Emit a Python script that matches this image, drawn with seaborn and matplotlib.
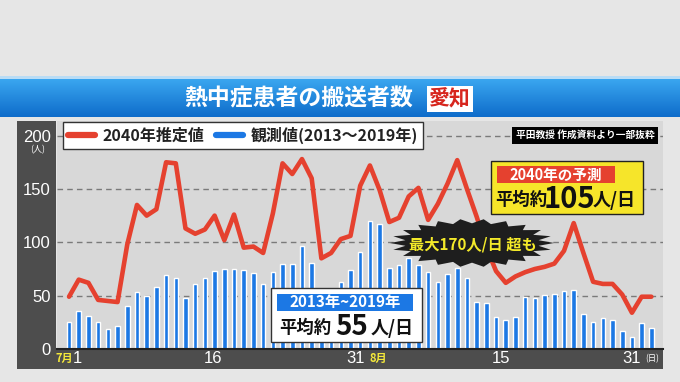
import numpy as np
import pandas as pd
import matplotlib.pyplot as plt
import seaborn as sns
from matplotlib.lines import Line2D
from matplotlib.patches import Rectangle, Polygon
from matplotlib.colors import LinearSegmentedColormap

# data (Jul 1 .. Aug 31)
days = list(range(61))
observed = [25, 36, 31, 25, 19, 22, 40, 53, 50, 58,
            69, 67, 48, 61, 67, 73, 75, 75, 74, 71,
            61, 72, 80, 80, 97, 81, 45, 50, 63, 74,
            91, 120, 117, 76, 79, 85, 79, 72, 63, 70,
            76, 67, 44, 43, 30, 27, 30, 49, 48, 51,
            52, 54, 55, 33, 25, 29, 27, 17, 11, 24, 20]
estimate_2040 = [49, 65, 62, 46, 45, 44, 98, 135, 125, 131,
                 175, 174, 113, 108, 112, 125, 102, 126, 95, 96,
                 90, 127, 174, 164, 178, 160, 85, 90, 103, 106,
                 153, 172, 149, 119, 123, 143, 151, 121, 136, 155,
                 177, 150, 124, 95, 73, 62, 68, 72, 75, 77,
                 80, 92, 118, 90, 63, 61, 61, 51, 34, 49, 49]
x_tick_pos = [0.9, 14.85, 29.5, 44.5, 58]
x_tick_labels = ['1', '16', '31', '15', '31']
y_ticks = [0, 50, 100, 150, 200]

df = pd.DataFrame({'day': days, 'observed': observed, 'estimate': estimate_2040})

red = '#e5412f'
blue = '#1c78e4'
dark = '#4d4d4d'

sns.set_theme(style='white')
plt.rcParams['font.family'] = ['Noto Sans CJK JP', 'DejaVu Sans']

W, H = 680, 382
def fx(px):
    return px / W
def fy(py):
    return 1 - py / H

fig = plt.figure(figsize=(6.8, 3.82), dpi=100)
fig.patch.set_facecolor('#e6e6e6')

def box(x0, y0, x1, y1, **kw):
    r = Rectangle((fx(x0), fy(y1)), fx(x1) - fx(x0), (y1 - y0) / H,
                  transform=fig.transFigure, **kw)
    fig.add_artist(r)
    return r

# title banner
box(0, 76, 680, 79, facecolor='#b9dcf5', edgecolor='none', zorder=0)
ax_b = fig.add_axes([0, fy(117), 1, (117 - 79) / H])
cmap = LinearSegmentedColormap.from_list('banner', ['#3aa6f0', '#0e6cca'])
ax_b.imshow(np.linspace(0, 1, 60).reshape(-1, 1), cmap=cmap, aspect='auto', extent=[0, 1, 0, 1])
ax_b.axis('off')
fig.text(fx(299), fy(99), '熱中症患者の搬送者数', color='white', size=16.5, weight='bold',
         ha='center', va='center')
fig.text(fx(450), fy(99), '愛知', color='#d7261e', size=15, weight='bold', ha='center', va='center',
         bbox=dict(facecolor='white', edgecolor='none', pad=1.5))

# dark axis strips
box(17, 121, 56, 369, facecolor=dark, edgecolor='none', zorder=0)
box(17, 349, 663, 369, facecolor=dark, edgecolor='none', zorder=0)

# main chart
ax = fig.add_axes([fx(57), fy(349), fx(663) - fx(57), (349 - 121) / H])
ax.set_facecolor('#d8d8d8')
for y in [50, 100, 150, 200]:
    ax.axhline(y, color='#7a7a7a', lw=1, ls=(0, (4, 3)), zorder=0.5)
sns.barplot(data=df, x='day', y='observed', color=blue, saturation=1, width=0.47, ax=ax, zorder=2)
sns.lineplot(data=df, x='day', y='estimate', color=red, linewidth=3.3, ax=ax, zorder=3)
ax.set_xlim(-1.24, 61.2)
ax.set_ylim(0, (349 - 121) / 1.067)
ax.set_xlabel('')
ax.set_ylabel('')
ax.set_xticks(x_tick_pos)
ax.set_xticklabels(x_tick_labels, color='white', size=12, family='Liberation Sans')
ax.set_yticks(y_ticks)
ax.set_yticklabels([str(v) for v in y_ticks], color='white', size=12, family='Liberation Sans')
ax.tick_params(length=0, pad=1.5, axis='x')
ax.tick_params(length=0, pad=4.5, axis='y')
for s in ['top', 'right', 'left']:
    ax.spines[s].set_visible(False)
ax.spines['bottom'].set_color('#222222')
ax.spines['bottom'].set_linewidth(1.5)

fig.text(fx(38), fy(150), '(人)', color='white', size=6.5, ha='center', va='center')
fig.text(fx(64), fy(358), '7月', color='#f4e83a', size=8, weight='bold', ha='center', va='center')
fig.text(fx(378), fy(358), '8月', color='#f4e83a', size=8, weight='bold', ha='center', va='center')
fig.text(fx(652), fy(359), '(日)', color='white', size=6, ha='center', va='center')

# legend
custom_legend = [Line2D([0], [0], color=red, lw=4.5),
                 Line2D([0], [0], color=blue, lw=4.5)]
leg = ax.legend(custom_legend, ['2040年推定値', '観測値(2013～2019年)'],
                loc='upper left', bbox_to_anchor=(fx(63), fy(122)), bbox_transform=fig.transFigure,
                ncol=2, frameon=True, fancybox=False, framealpha=1, edgecolor='#333333',
                prop=dict(weight='bold', size=11.5), handlelength=1.7, handletextpad=0.5,
                columnspacing=0.7, borderpad=0.3, borderaxespad=0)
leg.get_frame().set_linewidth(1)
for t in leg.get_texts():
    t.set_color('#222222')

# source note
fig.text(fx(585), fy(135), '平田教授 作成資料より一部抜粋', color='white', size=7, weight='bold',
         ha='center', va='center', bbox=dict(facecolor='black', edgecolor='none', pad=2.5))

# 2040 forecast box
box(491, 161, 643, 214, facecolor='#f6e52a', edgecolor='#222222', lw=1, zorder=4)
box(497, 166, 615, 183, facecolor='#e5412f', edgecolor='none', zorder=5)
fig.text(fx(556), fy(174.5), '2040年の予測', color='white', size=10.5, weight='bold',
         ha='center', va='center', zorder=6)
fig.text(fx(521), fy(200), '平均約', color='#111111', size=12.5, weight='bold',
         ha='center', va='center', zorder=6)
fig.text(fx(569), fy(199), '105', color='#111111', size=21, weight='bold',
         ha='center', va='center', zorder=6)
fig.text(fx(614), fy(200), '人/日', color='#111111', size=13, weight='bold',
         ha='center', va='center', zorder=6)

# starburst callout
ang = np.linspace(0, 2 * np.pi, 44, endpoint=False)
rad = np.where(np.arange(44) % 2 == 0, 1.0, 0.82)
px = 472 + 82 * rad * np.cos(ang)
py = 243 + 24 * rad * np.sin(ang)
star = Polygon(np.column_stack([fx(px), fy(py)]), closed=True, transform=fig.transFigure,
               facecolor='#1e1e1e', edgecolor='none', zorder=4)
fig.add_artist(star)
fig.text(fx(473), fy(244), '最大170人/日 超も', color='#f4ea2a', size=11, weight='bold',
         ha='center', va='center', zorder=6)

# observed average box
box(271, 288, 422, 342, facecolor='white', edgecolor='#333333', lw=1, zorder=4)
box(277, 294, 413, 311, facecolor=blue, edgecolor='none', zorder=5)
fig.text(fx(345), fy(302.5), '2013年~2019年', color='white', size=11, weight='bold',
         ha='center', va='center', zorder=6)
fig.text(fx(305), fy(328), '平均約', color='#111111', size=12.5, weight='bold',
         ha='center', va='center', zorder=6)
fig.text(fx(352), fy(327), '55', color='#111111', size=20, weight='bold',
         ha='center', va='center', zorder=6)
fig.text(fx(392), fy(328), '人/日', color='#111111', size=13, weight='bold',
         ha='center', va='center', zorder=6)

fig.savefig('out.png', dpi=100)
